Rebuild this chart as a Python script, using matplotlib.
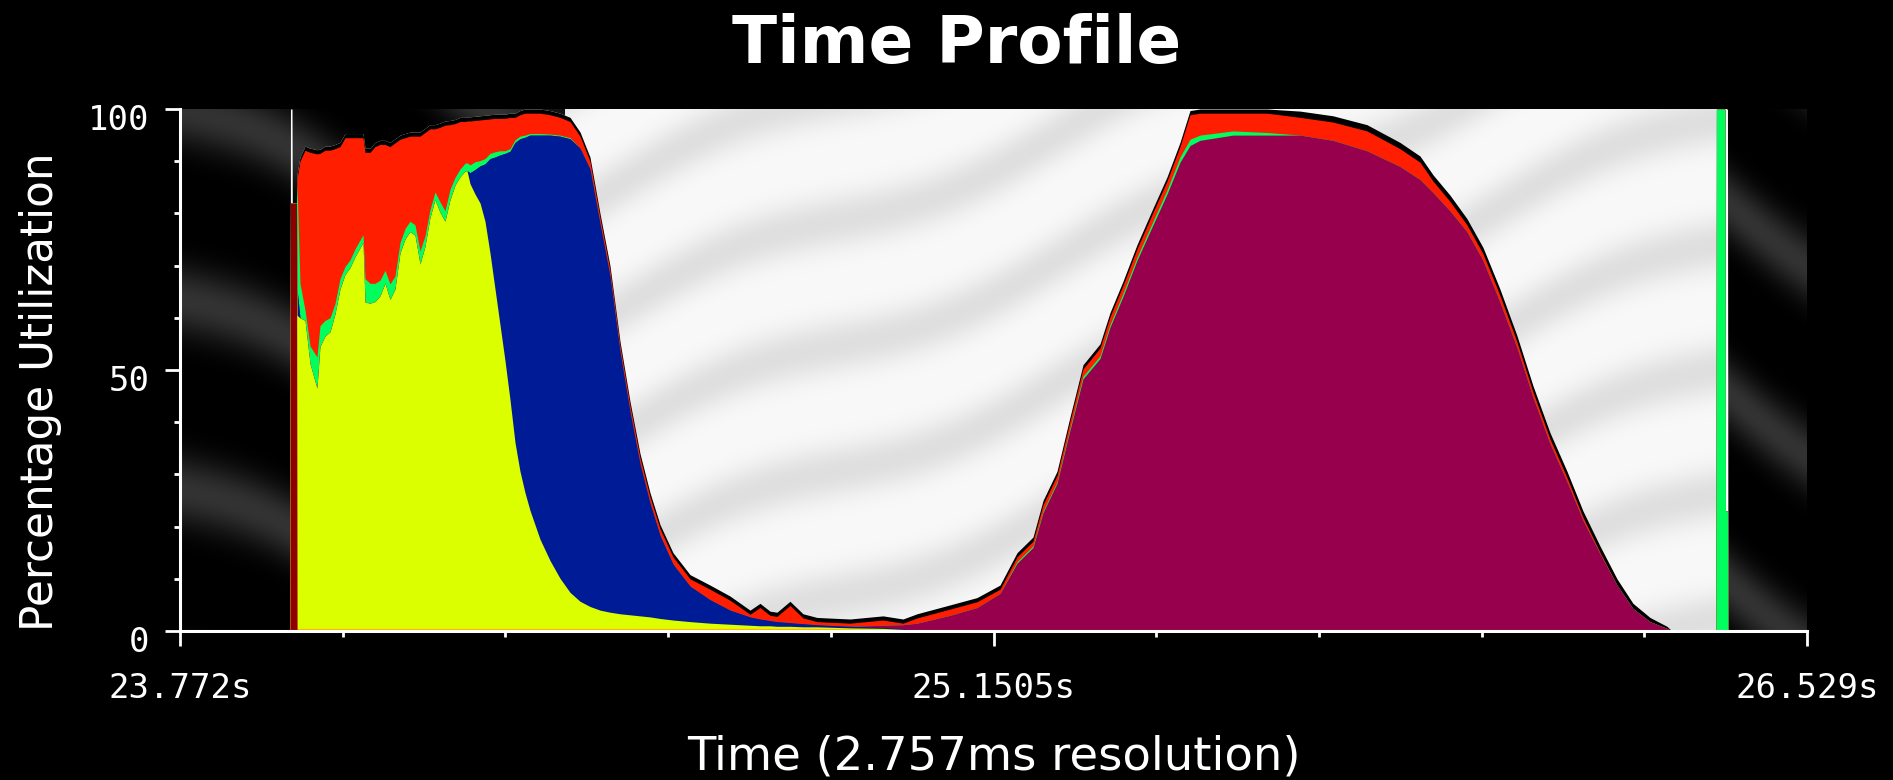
import numpy as np
import matplotlib
matplotlib.use("Agg")
import matplotlib.pyplot as plt
from matplotlib.transforms import ScaledTranslation

# Time axis: 1000 bins of 2.757 ms starting at 23.772 s
T0 = 23.772
T1 = 26.529
RES = 0.002757

# Selected (highlighted) interval, ms after T0
sel_ms = [652.4, 2621.4]

# Sample times, ms after T0
t_ms = [186.4, 187.2, 189.8, 190.3, 197.4, 198.3, 203.3, 211.8, 220.3, 232.1,
        237.2, 245.7, 254.2, 262.6, 271.1, 279.6, 288.1, 296.5, 305.0, 310.1,
        313.5, 322.0, 330.4, 338.9, 347.4, 355.8, 364.3, 372.8, 381.3, 389.7,
        398.2, 406.7, 415.2, 423.6, 432.1, 440.6, 449.0, 457.5, 466.0, 474.5,
        482.9, 486.3, 491.4, 499.9, 508.4, 516.8, 525.3, 533.8, 542.2, 550.7,
        559.2, 567.7, 576.1, 584.6, 593.1, 610.0, 627.0, 643.9, 660.9, 677.8,
        694.7, 711.7, 728.6, 745.6, 762.5, 779.5, 796.4, 813.4, 835.4, 864.2,
        898.1, 932.0, 965.9, 982.8, 999.8, 1011.6, 1033.6, 1055.7, 1079.4, 1135.3,
        1191.2, 1225.1, 1248.9, 1304.8, 1350.5, 1389.5, 1418.3, 1445.4, 1462.4, 1486.1,
        1508.1, 1530.1, 1558.9, 1575.9, 1597.9, 1621.6, 1648.7, 1672.5, 1694.5, 1711.4,
        1728.4, 1784.3, 1841.9, 1897.8, 1953.7, 2011.3, 2067.3, 2101.2, 2123.2, 2152.0,
        2180.8, 2207.9, 2236.7, 2265.5, 2292.6, 2321.5, 2350.3, 2377.4, 2406.2, 2435.0,
        2462.1, 2490.9, 2519.7, 2528.2, 2602.7, 2603.5, 2618.0, 2618.8, 2622.2, 2623.1]

# Percentage utilization per entry method (stacked bottom to top)
dark_red = [0, 82, 82, 82, 82] + [0] * 125

orange = ([0, 0, 0, 0, 0] + [0.5] * 74 + [0.4, 0.3, 0.2] + [0] * 48)

yellow = [0, 0, 0, 0, 0, 60, 59.5, 59, 50.7, 46,
          54, 56, 56.8, 60.2, 65, 67.8, 69.1, 71.2, 72.9, 73.9,
          62.5, 62.3, 62.6, 63.7, 66.1, 63, 65, 71.9, 74.6, 76,
          75.3, 69.8, 73.2, 78.7, 82.1, 79.7, 78, 82.1, 84.9, 86.5,
          87.6, 87.7, 85.2, 83.2, 81.5, 78, 71.9, 65, 58.2, 51.3,
          43.8, 35.6, 30.1, 26, 22.6, 17.1, 13, 9.6, 6.9, 5.2,
          4.2, 3.5, 3.1, 2.8, 2.6, 2.4, 2.2, 1.9, 1.6, 1.3,
          1.0, 0.8, 0.6, 0.5, 0.5, 0.4, 0.4, 0.3, 0.3, 0.2,
          0.2, 0.1] + [0] * 48

blue = ([0, 0, 0, 0, 0, 5] + [0] * 36 +
        [2.1, 4.7, 7.1, 11, 18.1, 25.3, 32.5, 39.7,
         47.6, 57.5, 63.7, 68.1, 71.9, 77.4, 81.5, 84.7, 86.9, 86.8,
         83.8, 74, 64.4, 50.2, 38.9, 29.1, 21.8, 15.9, 10.7, 6.8,
         4.5, 2.7, 1.6, 1.3, 1.0, 0.9, 0.7, 0.6, 0.4, 0.3,
         0.2, 0.1] + [0] * 48)

maroon = ([0] * 80 +
          [0.4, 0.8, 1.5, 3, 4.5, 7.2, 13, 16, 22.7, 28.3,
           38.5, 48.3, 52.2, 58.2, 64.1, 71, 77.8, 83.7, 89.8, 93,
           94, 95, 95, 95, 94, 92, 89, 86.5, 84, 80.5,
           76.5, 71, 63, 54.3, 44.8, 35.9, 28.6, 21.2, 14.8, 8.8,
           4.3, 1.8, 0.5, 0] + [0] * 6)

green = ([0, 0, 0, 0, 0, 20, 6.6, 2, 3.4, 6,
          4, 3, 2.7, 2, 2, 1.5, 1.5, 1.5, 1.5, 1.5,
          4.5, 3.8, 3.5, 3, 2.5, 3, 2.5, 2, 2, 2,
          2, 2.5, 2, 1.5, 1.5, 2, 2, 2, 1.5, 1.5,
          1.5, 1.5, 1.5, 1.5, 1, 1, 1, 1, 0.8, 0.5,
          0.5, 0.5, 0.5, 0.4, 0.3, 0.3, 0.2, 0.2, 0.2] + [0] * 27 +
         [0.3, 0.3, 0.3, 0.3, 0.4, 0.5, 0.5, 0.5, 0.6, 0.6,
          0.7, 0.8, 1, 1.2, 1, 0.8, 0.5] + [0] * 22 +
         [100, 100, 23, 23, 0])

red = [0, 0, 0, 0, 0, 1.2, 23.4, 30.6, 37.1, 38.9,
       33.0, 32.6, 32.1, 29.7, 25.3, 24.7, 23.4, 21.3, 19.6, 18.6,
       24.2, 25.1, 26.2, 26.0, 24.1, 26.3, 25.5, 19.8, 17.4, 16.3,
       17.0, 22.0, 19.8, 15.5, 12.1, 14.3, 16.4, 12.4, 10.3, 9.1,
       8.0, 8.0, 8.4, 7.9, 7.8, 7.5, 6.6, 6.4, 6.2, 6.2,
       6.0, 4.3, 4.1, 4.2, 3.9, 3.9, 3.7, 3.4, 3.1, 2.3,
       1.5, 1.2, 1.2, 1.2, 1.2, 1.2, 1.2, 1.3, 1.4, 1.4,
       2.0, 1.9, 0.5, 2.2, 1.0, 1.0, 3.3, 1.1, 0.6, 0.6,
       1.0, 0.3, 1.0, 1.2, 1.1, 0.8, 0.9, 0.9, 1.2, 1.2,
       1.3, 1.4, 1.5, 1.5, 1.5, 1.6, 1.7, 1.7, 2.0, 4.7,
       4.2, 3.4, 3.7, 3.4, 3.5, 3.8, 3.4, 3.3, 2.2, 1.8,
       1.3, 1.3, 1.3, 1.1, 1.0, 0.9, 0.8, 0.6, 0.3, 0,
       0, 0, 0, 0, 0, 0, 0, 0, 0, 0]

black = ([0, 0, 0, 0, 0] + [0.8] * 98 + [1.2] * 17 +
         [1.0, 0.8, 0.4, 0, 0, 0, 0, 0, 0, 0])

white = [0, 18, 18] + [0] * 124 + [77, 77, 0]

layers = [
    (dark_red, "#8e0000"),
    (orange, "#ffb400"),
    (yellow, "#dcff00"),
    (blue, "#001b96"),
    (maroon, "#97004c"),
    (green, "#00ff5e"),
    (red, "#ff1e00"),
    (black, "#000000"),
    (white, "#ffffff"),
]

W, H = 1893, 780
fig = plt.figure(figsize=(W / 100, H / 100), dpi=100, facecolor="black")
ax = fig.add_axes([180 / W, 149 / H, 1627 / W, 522 / H])
ax.set_facecolor("black")


def shaded_stripes(nx, ny, x0, slope, period, lo, hi, power):
    xx, yy = np.meshgrid(np.arange(nx) + x0, np.arange(ny))
    phase = (yy + slope * xx) / period + 0.12 * np.sin(xx / 70.0)
    v = (0.5 + 0.5 * np.cos(2 * np.pi * phase)) ** power
    g = lo + (hi - lo) * v
    return np.dstack([g, g, g])


# Unselected background (dark) over the whole range
ax.imshow(shaded_stripes(1627, 522, 0, -0.55, 190, 0.0, 0.2, 3),
          extent=(T0, T1, 0, 100), aspect="auto", zorder=0,
          interpolation="bilinear", origin="upper")

# Selected interval (light)
s0 = T0 + sel_ms[0] / 1000
s1 = T0 + sel_ms[1] / 1000
px0 = int((s0 - T0) / (T1 - T0) * 1627)
px1 = int((s1 - T0) / (T1 - T0) * 1627)
ax.imshow(shaded_stripes(px1 - px0, 522, px0, 0.4, 125, 0.975, 0.875, 2),
          extent=(s0, s1, 0, 100), aspect="auto", zorder=1,
          interpolation="bilinear", origin="upper")

# Stacked utilization, drawn top layer first so each fill starts at zero
t = T0 + np.asarray(t_ms) / 1000.0
vals = np.array([np.asarray(v, dtype=float) for v, _ in layers])
tops = np.cumsum(vals, axis=0)
for i in range(len(layers) - 1, -1, -1):
    ax.fill_between(t, 0, tops[i], color=layers[i][1], linewidth=0,
                    zorder=2 + (len(layers) - i) * 0.01)

ax.set_xlim(T0, T1)
ax.set_ylim(0, 100)

# Axes styling
for side in ("top", "right"):
    ax.spines[side].set_visible(False)
for side in ("left", "bottom"):
    ax.spines[side].set_color("white")
    ax.spines[side].set_linewidth(2.2)
    ax.spines[side].set_zorder(5)

ax.set_xticks([T0, (T0 + T1) / 2, T1])
ax.set_xticklabels(["23.772s", "25.1505s", "26.529s"])
ax.set_xticks(T0 + np.arange(11) * 100 * RES, minor=True)
ax.set_yticks([0, 50, 100])
ax.set_yticks(np.arange(0, 101, 10), minor=True)

ax.tick_params(which="major", colors="white", length=10.8, width=2,
               direction="out", labelsize=24.5)
ax.tick_params(which="minor", colors="white", length=4.5, width=2,
               direction="out")
ax.tick_params(axis="x", which="major", pad=19)
ax.tick_params(axis="y", which="major", pad=11)
for lab in ax.get_xticklabels() + ax.get_yticklabels():
    lab.set_family("DejaVu Sans Mono")
    lab.set_color("white")
for lab in ax.get_yticklabels():
    lab.set_transform(lab.get_transform() +
                      ScaledTranslation(0, -6 / 72, fig.dpi_scale_trans))

fig.text(957 / W, 1 - 63 / H, "Time Profile", ha="center", va="baseline",
         fontsize=47.5, fontweight="bold", color="white",
         family="DejaVu Sans")
fig.text(19 / W, 0.498, "Percentage Utilization", rotation=90, ha="left",
         va="center", fontsize=31.5, color="white", family="DejaVu Sans")
fig.text(994 / W, 1 - 769 / H, "Time (2.757ms resolution)", ha="center",
         va="baseline", fontsize=33.5, color="white", family="DejaVu Sans")

fig.savefig("out.png", dpi=100, facecolor="black")
